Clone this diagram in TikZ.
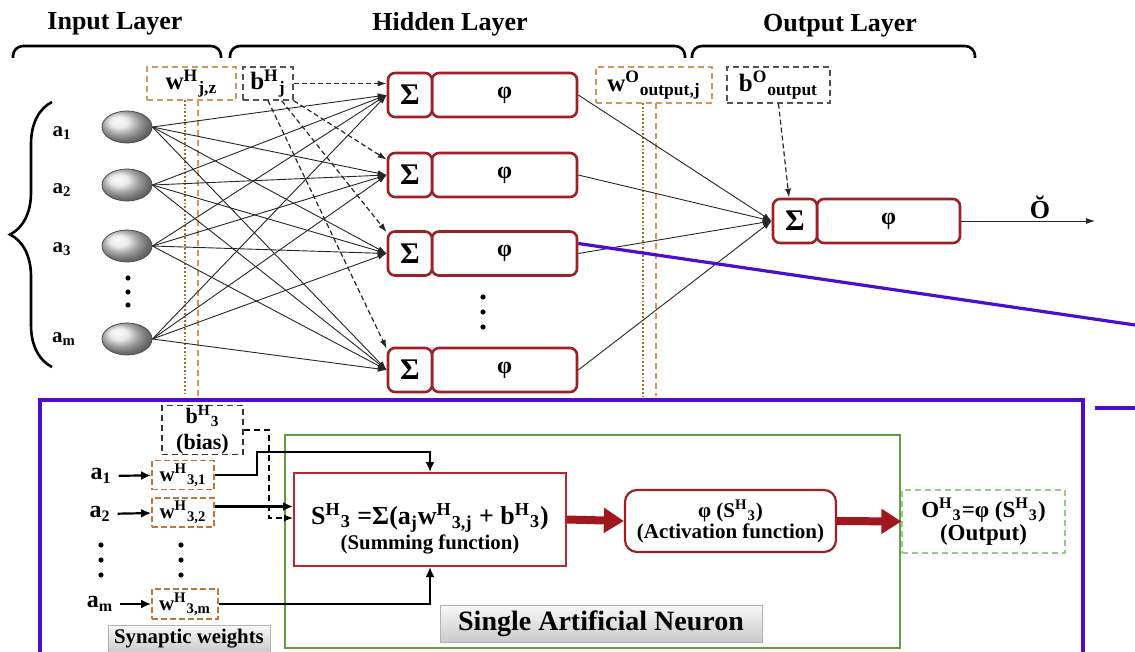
\documentclass[tikz,border=0pt]{standalone}
\usepackage{fontspec}
\setmainfont{Liberation Serif}
\usetikzlibrary{arrows.meta,decorations.pathreplacing,shapes.geometric}

\definecolor{nred}{RGB}{158,32,36}
\definecolor{sred}{RGB}{185,40,44}
\definecolor{fred}{RGB}{160,24,30}
\definecolor{worange}{RGB}{212,150,92}
\definecolor{wbrown}{RGB}{192,118,56}
\definecolor{wgold}{RGB}{160,110,32}
\definecolor{frameblue}{RGB}{78,12,205}
\definecolor{framegreen}{RGB}{100,158,62}
\definecolor{outgreen}{RGB}{150,205,140}

\begin{document}
\begin{tikzpicture}[x=0.5pt,y=-0.5pt,font=\bfseries,
    title/.style={font=\fontsize{13}{15}\selectfont\bfseries},
    neuron/.style={ellipse,draw=gray!60!black,line width=0.4pt,ball color=gray!22,
      minimum width=25pt,minimum height=16pt,inner sep=0pt},
    inlab/.style={font=\fontsize{10.5}{12}\selectfont\bfseries},
    sigbox/.style={draw=nred,line width=1.3pt,rounded corners=3.5pt,fill=white,
      minimum width=22pt,minimum height=22pt,inner sep=0pt,
      font=\fontsize{15}{15}\selectfont\bfseries},
    phibox/.style={sigbox,font=\fontsize{12}{12}\selectfont\bfseries},
    wbox/.style={draw=worange,densely dashed,line width=0.7pt,inner sep=0pt,
      minimum height=16.5pt,font=\fontsize{12.5}{12.5}\selectfont\bfseries},
    bbox/.style={wbox,draw=gray!65!black},
    link/.style={line width=0.45pt,draw=black!85,-{Latex[length=4.5pt,width=3pt]}},
    biaslink/.style={link,line width=0.6pt,dash pattern=on 2.5pt off 1.5pt},
    vline/.style={line width=0.9pt,densely dotted},
    brace/.style={line width=1.3pt,rounded corners=5pt},
    sbox/.style={draw=wbrown,dash pattern=on 3pt off 1.5pt,line width=0.9pt,inner sep=0pt,
      minimum height=14.5pt,font=\fontsize{10.5}{12}\selectfont\bfseries},
    blab/.style={font=\fontsize{12}{14}\selectfont\bfseries},
    wire/.style={line width=1.1pt,-{Latex[length=5pt,width=4.5pt]}},
    fat/.style={draw=fred,line width=4pt,-{Triangle[length=10pt 0,width=12pt 0]}},
    button/.style={top color=gray!5,bottom color=gray!42,draw=gray!60,line width=0.4pt,inner sep=0pt}]
  \useasboundingbox (0,0) rectangle (1135,652);
  \clip (0,0) rectangle (1135,652);

  \node[title] (intitle) at (115,24) {Input Layer};
  \node[title] (hidtitle) at (450,24) {Hidden Layer};
  \node[title] (outtitle) at (840,26) {Output Layer};
  \draw[brace] (13,58) |- (117,46) -| (221,58);
  \draw[brace] (230,58) |- (457,46) -| (685,58);
  \draw[brace] (692,58) |- (833,46) -| (975,58);
  \draw[decorate,decoration={brace,amplitude=21pt},line width=1.3pt] (52,367) -- (52,102);

  \node[inlab] (la1) at (62,133) {a\textsubscript{1}};
  \node[inlab] (la2) at (62,190) {a\textsubscript{2}};
  \node[inlab] (la3) at (62,249) {a\textsubscript{3}};
  \node[inlab] (lam) at (64,339) {a\textsubscript{m}};
  \node[neuron] (x1) at (127,127) {};
  \node[neuron] (x2) at (127,185) {};
  \node[neuron] (x3) at (127,246) {};
  \node[neuron] (xm) at (127,339) {};
  \fill (128,278) circle (1.3pt) (128,292) circle (1.3pt) (128,305) circle (1.3pt);

  \node[wbox,minimum width=44.5pt] (wh) at (191.5,83.5) {w\textsuperscript{H}\textsubscript{j,z}};
  \node[bbox,minimum width=25pt] (bh) at (268,83.5) {b\textsuperscript{H}\textsubscript{j}};
  \draw[vline,wgold] (185,100) -- (185,396);
  \draw[vline,worange,densely dashed] (198,100) -- (198,396);

  \node[phibox,minimum width=72.5pt] (f1) at (504.5,95) {φ};
  \node[sigbox] (s1) at (410,95) {Σ};
  \node[phibox,minimum width=72.5pt] (f2) at (504.5,175) {φ};
  \node[sigbox] (s2) at (410,175) {Σ};
  \node[phibox,minimum width=72.5pt] (f3) at (504.5,253.5) {φ};
  \node[sigbox] (s3) at (410,253.5) {Σ};
  \node[phibox,minimum width=72.5pt] (f4) at (504.5,370) {φ};
  \node[sigbox] (s4) at (410,370) {Σ};
  \fill (483,297) circle (1.3pt) (483,312) circle (1.3pt) (483,327) circle (1.3pt);

  \draw[link] (x1.east) -- (s1.west);
  \draw[link] (x1.east) -- (s2.west);
  \draw[link] (x1.east) -- (s3.west);
  \draw[link] (x1.east) -- (s4.west);
  \draw[link] (x2.east) -- (s1.west);
  \draw[link] (x2.east) -- (s2.west);
  \draw[link] (x2.east) -- (s3.west);
  \draw[link] (x2.east) -- (s4.west);
  \draw[link] (x3.east) -- (s1.west);
  \draw[link] (x3.east) -- (s2.west);
  \draw[link] (x3.east) -- (s3.west);
  \draw[link] (x3.east) -- (s4.west);
  \draw[link] (xm.east) -- (s1.west);
  \draw[link] (xm.east) -- (s2.west);
  \draw[link] (xm.east) -- (s3.west);
  \draw[link] (xm.east) -- (s4.west);

  \draw[biaslink] (bh.east) -- (bh.east -| s1.west);
  \draw[biaslink] (bh.south east) -- ([yshift=-4pt]s2.north west);
  \draw[biaslink] ([xshift=-6pt]bh.south east) -- ([yshift=-1pt]s3.north west);
  \draw[biaslink] (bh.south) -- ([yshift=-1pt]s4.north west);

  \node[wbox,minimum width=58pt,minimum height=18pt] (wo) at (654,85) {w\textsuperscript{O}\textsubscript{output,j}};
  \node[bbox,minimum width=51.5pt,minimum height=18pt] (bo) at (778.5,85) {b\textsuperscript{O}\textsubscript{output}};
  \draw[vline,wgold] (643,103) -- (643,396);
  \draw[vline,worange,densely dashed] (656,103) -- (656,396);

  \node[phibox,minimum width=71.5pt] (fo) at (888.5,221) {φ};
  \node[sigbox] (so) at (795,221) {Σ};
  \node[font=\fontsize{13}{13}\selectfont\bfseries] (ohat) at (1040,207) {Ŏ};
  \coordinate (oend) at (1095,221);

  \draw[link] (f1.east) -- (so.west);
  \draw[link] (f2.east) -- (so.west);
  \draw[link] (f3.east) -- (so.west);
  \draw[link] (f4.east) -- (so.west);
  \draw[biaslink] (bo.south) -- ([xshift=-3pt]so.north);
  \draw[link] (fo.east) -- (oend);

  % zoom line and frame of the single neuron
  \coordinate (zoomend) at (1135,325);
  \coordinate (tick1) at (1095,408);
  \coordinate (tick2) at (1135,408);
  \draw[frameblue,line width=1.6pt] ([yshift=5pt]f3.east) -- (zoomend);
  \draw[frameblue,line width=1.6pt] (tick1) -- (tick2);
  \draw[frameblue,line width=1.9pt] (40,670) |- (1083,400) -- (1083,670);
  \draw[framegreen,line width=1.3pt] (285,435) rectangle (900,648);

  \node[draw=black!80,densely dashed,line width=0.6pt,minimum width=40.5pt,minimum height=23pt,
    inner sep=0pt,align=center,font=\fontsize{11}{13}\selectfont\bfseries] (bias3) at (202.5,430)
    {b\textsuperscript{H}\textsubscript{3}\\(bias)};
  \node[sbox,minimum width=31pt] (w31) at (183,475) {w\textsuperscript{H}\textsubscript{3,1}};
  \node[sbox,minimum width=31pt] (w32) at (183,512.5) {w\textsuperscript{H}\textsubscript{3,2}};
  \node[sbox,minimum width=33pt,minimum height=15pt] (w3m) at (185,604) {w\textsuperscript{H}\textsubscript{3,m}};
  \node[blab] (in1) at (101,476) {a\textsubscript{1}};
  \node[blab] (in2) at (100,514) {a\textsubscript{2}};
  \node[blab] (inm) at (100,604) {a\textsubscript{m}};
  \fill (101,545) circle (1.3pt) (101,560) circle (1.3pt) (101,575) circle (1.3pt);
  \fill (181,545) circle (1.3pt) (181,560) circle (1.3pt) (181,575) circle (1.3pt);
  \node[button,minimum width=81pt,minimum height=14pt,font=\fontsize{10.4}{12}\selectfont\bfseries]
    (synw) at (189,639) {Synaptic weights};

  \node[draw=sred,line width=1pt,minimum width=136pt,minimum height=46.5pt,inner sep=0pt,
    text height=10pt,text depth=5.5pt,font=\fontsize{13}{15}\selectfont\bfseries] (sumf) at (430,519.5)
    {S\textsuperscript{H}\textsubscript{3} =Σ(a\textsubscript{j}w\textsuperscript{H}\textsubscript{3,j} + b\textsuperscript{H}\textsubscript{3})};
  \node[font=\fontsize{10.4}{12}\selectfont\bfseries] (sumsub) at (430,544) {(Summing function)};
  \node[draw=nred,line width=1.1pt,rounded corners=6pt,minimum width=105.5pt,minimum height=31pt,
    inner sep=0pt,align=center,font=\fontsize{10.5}{10.5}\selectfont\bfseries] (actf) at (730.5,521)
    {φ (S\textsuperscript{H}\textsubscript{3})\\(Activation function)};
  \node[draw=outgreen,densely dashed,line width=0.6pt,minimum width=81.5pt,minimum height=31.5pt,
    inner sep=0pt,align=center,font=\fontsize{11.5}{11.5}\selectfont\bfseries] (outf) at (983.5,521.5)
    {O\textsuperscript{H}\textsubscript{3}=φ (S\textsuperscript{H}\textsubscript{3})\\(Output)};
  \node[button,minimum width=161pt,minimum height=18.5pt,font=\fontsize{14}{16}\selectfont\bfseries]
    (sanlabel) at (601,623.5) {Single Artificial Neuron};

  \coordinate (bend1) at (257,452);
  \coordinate (bend2) at (269,518);
  \draw[wire] (in1) -- (w31);
  \draw[wire] (in2) -- (w32);
  \draw[wire] (inm) -- (w3m);
  \draw[wire] (w31.east) -| (bend1) -| (sumf.north);
  \draw[wire] ([yshift=3pt]w32.east) -- ([yshift=3pt]w32.east -| sumf.west);
  \draw[line width=0.6pt,densely dashed,-{Latex[length=4.5pt,width=3.5pt]}] (bias3.east) -| (bend2) -- (bend2 -| sumf.west);
  \draw[wire] (w3m.east) -| (sumf.south);
  \draw[fat] (sumf.east) -- (actf.west);
  \draw[fat] (actf.east) -- (outf.west);
\end{tikzpicture}
\end{document}
